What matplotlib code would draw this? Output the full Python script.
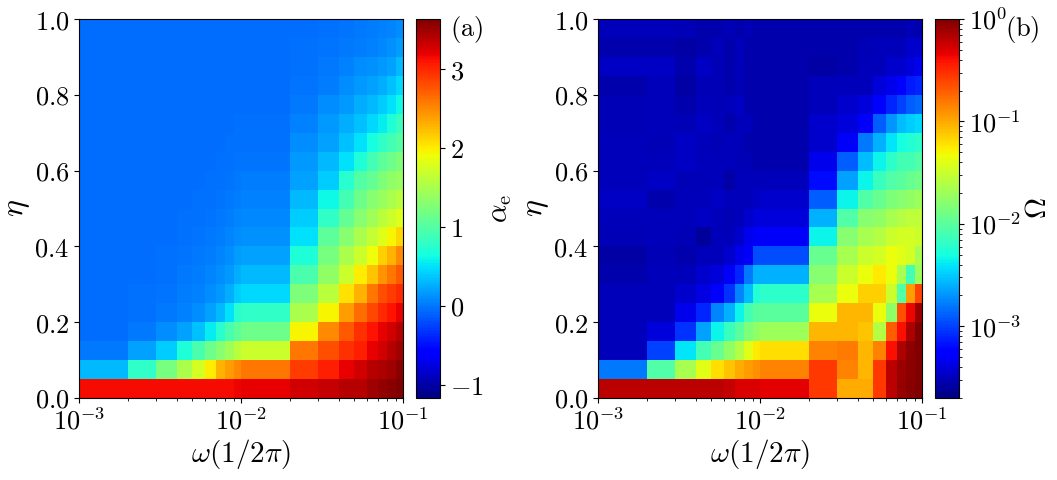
import numpy as np
import matplotlib
matplotlib.use("Agg")
import matplotlib.pyplot as plt
from matplotlib.colors import Normalize, LogNorm
from matplotlib.ticker import FuncFormatter, LogLocator

plt.rcParams['mathtext.fontset'] = 'cm'
plt.rcParams['font.family'] = 'serif'
plt.rcParams['font.serif'] = ['DejaVu Serif']

# omega edges (units of 1/2pi)
omega_edges = [1e-3, 2e-3, 3e-3, 4e-3, 5e-3, 6e-3, 7e-3, 8e-3, 9e-3, 1e-2,
               2e-2, 3e-2, 4e-2, 5e-2, 6e-2, 7e-2, 8e-2, 9e-2, 1e-1]
eta_edges = [0.0, 0.05, 0.1, 0.15, 0.2, 0.25, 0.3, 0.35, 0.4, 0.45, 0.5,
             0.55, 0.6, 0.65, 0.7, 0.75, 0.8, 0.85, 0.9, 0.95, 1.0]

# panel (a): alpha_e, rows from eta=0 upward, 18 columns
alpha_e = [
 [3.15,3.15,3.15,3.15,3.15,3.15,3.15,3.15,3.18,3.2,3.3,3.35,3.4,3.4,3.5,3.55,3.6,3.64],
 [0.3,0.8,1.2,1.5,1.75,2.0,2.3,2.4,2.5,2.6,2.9,3.05,3.2,3.3,3.4,3.45,3.5,3.6],
 [0.0,0.2,0.4,0.7,0.95,1.15,1.3,1.45,1.6,1.7,2.6,2.8,2.95,3.05,3.2,3.3,3.4,3.5],
 [-0.05,0.0,0.1,0.2,0.35,0.55,0.75,0.95,1.05,1.15,1.95,2.5,2.75,2.95,3.1,3.2,3.3,3.4],
 [-0.05,-0.03,0.0,0.05,0.1,0.2,0.3,0.5,0.75,0.8,1.5,1.95,2.4,2.65,2.85,3.0,3.1,3.2],
 [-0.05,-0.04,-0.02,0.02,0.05,0.1,0.15,0.25,0.4,0.45,1.25,1.6,2.05,2.3,2.6,2.8,2.9,3.0],
 [-0.05,-0.05,-0.03,0.0,0.03,0.06,0.1,0.15,0.25,0.3,0.95,1.35,1.7,2.0,2.2,2.45,2.6,2.75],
 [-0.05,-0.05,-0.04,-0.02,0.0,0.03,0.06,0.1,0.18,0.2,0.7,1.2,1.5,1.7,1.9,2.15,2.3,2.5],
 [-0.06,-0.05,-0.05,-0.03,-0.02,0.0,0.03,0.06,0.1,0.12,0.5,1.05,1.3,1.5,1.65,1.8,1.95,2.1],
 [-0.06,-0.05,-0.05,-0.04,-0.03,-0.02,0.0,0.03,0.06,0.08,0.4,0.8,1.1,1.3,1.45,1.6,1.7,1.8],
 [-0.06,-0.06,-0.05,-0.05,-0.04,-0.03,-0.02,0.0,0.03,0.04,0.3,0.6,0.9,1.15,1.3,1.4,1.5,1.6],
 [-0.06,-0.06,-0.05,-0.05,-0.05,-0.04,-0.03,-0.02,0.0,0.02,0.2,0.4,0.75,1.0,1.1,1.25,1.35,1.4],
 [-0.06,-0.06,-0.06,-0.05,-0.05,-0.05,-0.04,-0.03,-0.02,-0.01,0.15,0.3,0.5,0.7,0.9,1.05,1.15,1.25],
 [-0.06,-0.06,-0.06,-0.06,-0.05,-0.05,-0.05,-0.04,-0.03,-0.03,0.1,0.2,0.35,0.5,0.65,0.8,0.9,1.0],
 [-0.06,-0.06,-0.06,-0.06,-0.06,-0.05,-0.05,-0.05,-0.04,-0.04,0.05,0.15,0.25,0.35,0.45,0.55,0.7,0.85],
 [-0.06,-0.06,-0.06,-0.06,-0.06,-0.06,-0.05,-0.05,-0.05,-0.05,0.0,0.1,0.15,0.25,0.3,0.4,0.5,0.6],
 [-0.06,-0.06,-0.06,-0.06,-0.06,-0.06,-0.06,-0.05,-0.05,-0.05,-0.02,0.03,0.1,0.15,0.2,0.25,0.35,0.45],
 [-0.06,-0.06,-0.06,-0.06,-0.06,-0.06,-0.06,-0.06,-0.05,-0.05,-0.03,0.0,0.05,0.1,0.12,0.15,0.2,0.3],
 [-0.06,-0.06,-0.06,-0.06,-0.06,-0.06,-0.06,-0.06,-0.06,-0.06,-0.04,-0.02,0.0,0.03,0.05,0.08,0.12,0.18],
 [-0.06,-0.06,-0.06,-0.06,-0.06,-0.06,-0.06,-0.06,-0.06,-0.06,-0.05,-0.04,-0.02,0.0,0.02,0.04,0.07,0.1],
]

# panel (b): log10(Omega), rows from eta=0 upward
log_omega = [
 [-0.2,-0.2,-0.2,-0.2,-0.2,-0.22,-0.3,-0.3,-0.3,-0.32,-0.55,-1.0,-1.0,-0.55,-0.2,-0.08,-0.03,0.0],
 [-2.8,-2.05,-1.65,-1.4,-1.2,-1.1,-1.0,-0.95,-0.9,-0.85,-0.55,-0.85,-1.05,-0.55,-0.2,-0.1,-0.05,0.0],
 [-3.5,-3.0,-2.4,-2.1,-1.95,-1.75,-1.6,-1.4,-1.25,-1.2,-0.85,-0.82,-1.05,-0.85,-0.4,-0.15,-0.05,0.0],
 [-3.5,-3.4,-3.05,-2.65,-2.35,-2.15,-2.0,-1.85,-1.75,-1.7,-1.05,-1.05,-1.1,-1.6,-0.7,-0.4,-0.15,0.0],
 [-3.5,-3.5,-3.35,-3.1,-2.75,-2.6,-2.35,-2.1,-2.0,-2.0,-1.35,-1.05,-1.05,-1.35,-1.75,-0.65,-0.35,-0.1],
 [-3.5,-3.5,-3.45,-3.38,-3.25,-3.05,-2.75,-2.55,-2.25,-2.2,-1.65,-1.35,-1.15,-1.15,-1.5,-2.05,-0.95,-0.6],
 [-3.55,-3.5,-3.5,-3.45,-3.4,-3.3,-3.1,-2.8,-2.6,-2.6,-1.8,-1.5,-1.35,-1.25,-1.35,-1.65,-2.1,-1.7],
 [-3.58,-3.52,-3.55,-3.5,-3.5,-3.45,-3.35,-3.3,-2.95,-2.95,-1.95,-1.65,-1.5,-1.45,-1.35,-1.4,-1.45,-1.65],
 [-3.52,-3.5,-3.52,-3.6,-3.5,-3.5,-3.45,-3.35,-3.3,-3.3,-2.35,-1.8,-1.65,-1.6,-1.5,-1.45,-1.45,-1.5],
 [-3.5,-3.5,-3.5,-3.48,-3.5,-3.52,-3.5,-3.45,-3.4,-3.4,-2.6,-2.05,-1.8,-1.75,-1.65,-1.6,-1.55,-1.55],
 [-3.48,-3.55,-3.5,-3.5,-3.48,-3.5,-3.5,-3.5,-3.48,-3.45,-2.9,-2.35,-2.05,-1.95,-1.85,-1.8,-1.75,-1.7],
 [-3.5,-3.48,-3.52,-3.52,-3.5,-3.58,-3.5,-3.5,-3.5,-3.5,-3.2,-2.65,-2.35,-2.15,-2.05,-2.0,-1.95,-1.9],
 [-3.5,-3.5,-3.48,-3.5,-3.5,-3.5,-3.52,-3.52,-3.55,-3.55,-3.35,-2.9,-2.55,-2.35,-2.2,-2.1,-2.1,-2.05],
 [-3.5,-3.52,-3.48,-3.5,-3.52,-3.5,-3.5,-3.55,-3.55,-3.55,-3.45,-3.3,-2.8,-2.6,-2.4,-2.3,-2.25,-2.2],
 [-3.52,-3.5,-3.52,-3.48,-3.5,-3.55,-3.5,-3.5,-3.55,-3.55,-3.45,-3.4,-3.3,-2.9,-2.7,-2.55,-2.5,-2.45],
 [-3.52,-3.5,-3.55,-3.5,-3.52,-3.5,-3.48,-3.55,-3.55,-3.55,-3.5,-3.45,-3.4,-3.25,-3.1,-3.0,-2.9,-2.85],
 [-3.55,-3.5,-3.58,-3.52,-3.52,-3.55,-3.52,-3.55,-3.55,-3.55,-3.5,-3.5,-3.5,-3.4,-3.35,-3.25,-3.15,-3.1],
 [-3.48,-3.48,-3.55,-3.48,-3.52,-3.55,-3.5,-3.55,-3.55,-3.55,-3.58,-3.55,-3.5,-3.5,-3.45,-3.45,-3.4,-3.35],
 [-3.55,-3.55,-3.58,-3.55,-3.5,-3.55,-3.5,-3.55,-3.55,-3.55,-3.55,-3.55,-3.52,-3.5,-3.5,-3.5,-3.45,-3.45],
 [-3.5,-3.5,-3.52,-3.55,-3.55,-3.52,-3.55,-3.52,-3.55,-3.55,-3.55,-3.55,-3.55,-3.55,-3.55,-3.55,-3.52,-3.55],
]

x_ticks = [1e-3, 1e-2, 1e-1]
x_ticklabels = [r'$10^{-3}$', r'$10^{-2}$', r'$10^{-1}$']
y_ticks = [0.0, 0.2, 0.4, 0.6, 0.8, 1.0]

fig = plt.figure(figsize=(10.57, 4.8), dpi=100)
W, H = 1057, 480
def rect(x0, y0, x1, y1):
    return [x0 / W, 1 - y1 / H, (x1 - x0) / W, (y1 - y0) / H]

axA = fig.add_axes(rect(79, 19, 403, 398))
caxA = fig.add_axes(rect(416, 19, 440, 398))
axB = fig.add_axes(rect(598, 19, 922, 398))
caxB = fig.add_axes(rect(935, 19, 959, 398))

fs = 19
yfmt = FuncFormatter(lambda v, p: r'$%.1f$' % v)

def style(ax):
    ax.set_xscale('log')
    ax.set_xlim(1e-3, 1e-1)
    ax.set_ylim(0, 1)
    ax.set_xticks(x_ticks)
    ax.set_xticklabels(x_ticklabels)
    ax.xaxis.set_minor_locator(LogLocator(base=10, subs=np.arange(2, 10)))
    ax.xaxis.set_minor_formatter(plt.NullFormatter())
    ax.set_yticks(y_ticks)
    ax.yaxis.set_major_formatter(yfmt)
    ax.tick_params(labelsize=fs)
    ax.set_xlabel(r'$\omega(1/2\pi)$', fontsize=fs + 2, labelpad=2)
    ax.set_ylabel(r'$\eta$', fontsize=fs + 4, labelpad=2)

A = np.array(alpha_e)
mA = axA.pcolormesh(omega_edges, eta_edges, A, cmap='jet',
                    norm=Normalize(vmin=-1.17, vmax=3.64))
style(axA)
cbA = fig.colorbar(mA, cax=caxA, ticks=[-1, 0, 1, 2, 3])
cbA.ax.set_yticklabels([r'$-1$', r'$0$', r'$1$', r'$2$', r'$3$'])
cbA.ax.tick_params(labelsize=fs)
cbA.set_label(r'$\alpha_{\rm e}$', fontsize=fs + 2, labelpad=2)
fig.text(450 / W, 1 - 36 / H, r'$\rm (a)$', fontsize=fs)

B = 10 ** np.array(log_omega)
mB = axB.pcolormesh(omega_edges, eta_edges, B, cmap='jet',
                    norm=LogNorm(vmin=10 ** -3.7, vmax=1.0))
style(axB)
cbB = fig.colorbar(mB, cax=caxB)
cbB.set_ticks([1e-3, 1e-2, 1e-1, 1e0])
cbB.ax.set_yticklabels([r'$10^{-3}$', r'$10^{-2}$', r'$10^{-1}$', r'$10^{0}$'])
cbB.ax.tick_params(labelsize=fs)
cbB.set_label(r'$\Omega$', fontsize=fs + 2, labelpad=2)
fig.text(1005 / W, 1 - 36 / H, r'$\rm (b)$', fontsize=fs)

fig.savefig('out.png', dpi=100)
